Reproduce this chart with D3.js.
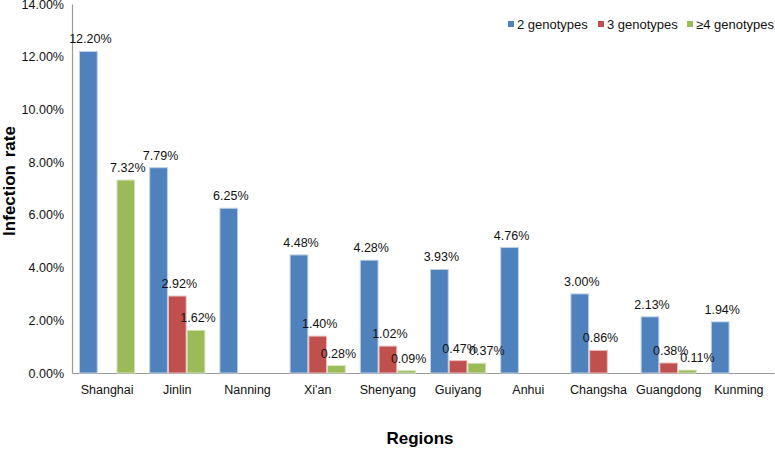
<!DOCTYPE html>
<html>
<head>
<meta charset="utf-8">
<script src="https://cdn.jsdelivr.net/npm/d3@7"></script>
<style>
  html, body { margin: 0; padding: 0; background: #fff; }
  svg { display: block; font-family: "Liberation Sans", Arial, Helvetica, sans-serif; }
</style>
</head>
<body>
<svg id="chart" width="775" height="449"></svg>
<script>
const regions = ["Shanghai", "Jinlin", "Nanning", "Xi'an", "Shenyang", "Guiyang", "Anhui", "Changsha", "Guangdong", "Kunming"];
const seriesNames = ["2 genotypes", "3 genotypes", "\u22654 genotypes"];
const twoGenotypes = [12.20, 7.79, 6.25, 4.48, 4.28, 3.93, 4.76, 3.00, 2.13, 1.94];
const threeGenotypes = [0, 2.92, 0, 1.40, 1.02, 0.47, 0, 0.86, 0.38, 0];
const fourPlusGenotypes = [7.32, 1.62, 0, 0.28, 0.09, 0.37, 0, 0, 0.11, 0];
const yTicks = [0, 2, 4, 6, 8, 10, 12, 14];
const colors = ["#4F81BD", "#C0504D", "#9BBB59"];
const strokes = ["#bfd0e6", "#e6c3c2", "#d6e3bf"];

const seriesValues = [twoGenotypes, threeGenotypes, fourPlusGenotypes];

const svg = d3.select("#chart");
const plotLeft = 72, plotRight = 774, plotTop = 4, plotBottom = 373;

const y = d3.scaleLinear().domain([0, 14]).range([plotBottom, plotTop]);
const x = d3.scaleBand().domain(regions).range([plotLeft, plotRight]).paddingInner(0.2).paddingOuter(0.1);
const xs = d3.scaleBand().domain(d3.range(3)).range([0, x.bandwidth()]);

// Y axis
const yAxis = d3.axisLeft(y).tickValues(yTicks).tickSize(0).tickPadding(8)
  .tickFormat(d => d.toFixed(2) + "%");
const gy = svg.append("g").attr("transform", `translate(${plotLeft},0)`).call(yAxis);
gy.select(".domain").attr("stroke", "#999").attr("stroke-width", 1.2);
gy.selectAll("text").attr("font-size", "12.5px").attr("fill", "#111")
  .attr("font-family", "Liberation Sans, Arial, sans-serif");

// X axis
const xAxis = d3.axisBottom(x).tickSize(0).tickPadding(12);
const gx = svg.append("g").attr("transform", `translate(0,${plotBottom})`).call(xAxis);
gx.select(".domain").attr("stroke", "#999").attr("stroke-width", 1.2);
gx.selectAll("text").attr("font-size", "12.5px").attr("fill", "#111")
  .attr("font-family", "Liberation Sans, Arial, sans-serif");

// Bars
const groups = svg.append("g").selectAll("g").data(regions).join("g")
  .attr("transform", d => `translate(${x(d)},0)`);

seriesValues.forEach((vals, si) => {
  groups.filter((d, i) => vals[i] > 0)
    .append("rect")
    .attr("x", xs(si) + 0.5)
    .attr("width", xs.bandwidth() - 1)
    .attr("y", d => y(vals[regions.indexOf(d)]))
    .attr("height", d => plotBottom - y(vals[regions.indexOf(d)]))
    .attr("fill", colors[si])
    .attr("stroke", strokes[si])
    .attr("stroke-width", 1);
});

// Value labels (nudged right when they collide with the previous label in the group)
const labelLayer = svg.append("g");
regions.forEach((r, i) => {
  let prev = null;
  seriesValues.forEach((vals, si) => {
    const v = vals[i];
    if (!(v > 0)) return;
    let cx = x(r) + xs(si) + xs.bandwidth() / 2 + 2;
    const by = y(v) - 8;
    const t = labelLayer.append("text")
      .attr("text-anchor", "middle")
      .attr("font-size", "12.5px")
      .attr("fill", "#111")
      .attr("y", by)
      .text(v.toFixed(2) + "%");
    const w = t.node().getComputedTextLength();
    if (prev && Math.abs(by - prev.y) < 12 && cx - w / 2 < prev.x + prev.w / 2) {
      cx += 8;
    }
    t.attr("x", cx);
    prev = { x: cx, y: by, w: w };
  });
});

// Legend
const legendX = [508, 598, 687];
const legend = svg.append("g");
seriesNames.forEach((name, i) => {
  legend.append("rect").attr("x", legendX[i]).attr("y", 21).attr("width", 6).attr("height", 6)
    .attr("fill", colors[i]);
  legend.append("text").attr("x", legendX[i] + 9).attr("y", 28.5)
    .attr("font-size", "13px").attr("fill", "#111").text(name);
});

// Axis titles
svg.append("text")
  .attr("transform", "translate(15,181) rotate(-90)")
  .attr("text-anchor", "middle")
  .attr("font-size", "17px").attr("font-weight", "bold").attr("fill", "#000")
  .style("word-spacing", "3px")
  .text("Infection rate");

svg.append("text")
  .attr("x", 420).attr("y", 444)
  .attr("text-anchor", "middle")
  .attr("font-size", "17px").attr("font-weight", "bold").attr("fill", "#000")
  .text("Regions");
</script>
</body>
</html>
